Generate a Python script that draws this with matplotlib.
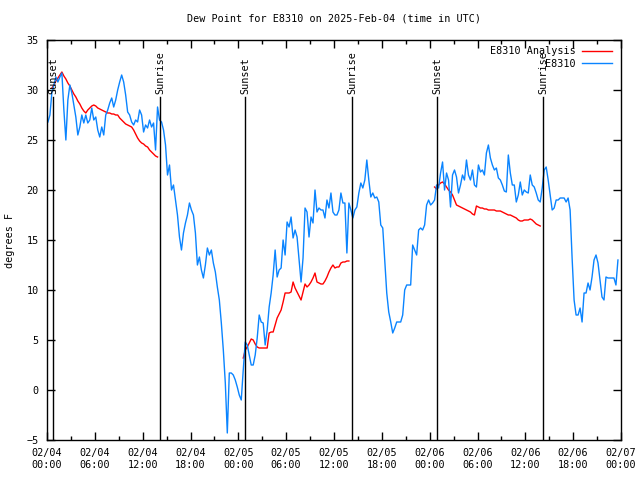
import numpy as np
import pandas as pd
import matplotlib
matplotlib.use("Agg")
import matplotlib.pyplot as plt
import matplotlib.dates as mdates

# station observations, every 15 minutes
obs_start = "2025-02-04 00:07"
obs_dewpt = [
    26.8, 27.5, 29.8, 30.5, 31.3, 30.8, 31.3, 31.7, 28.0, 25.0,
    29.0, 30.5, 29.7, 28.5, 27.3, 25.5, 26.3, 27.5, 26.7, 27.5,
    26.7, 27.0, 28.2, 27.0, 27.3, 26.0, 25.3, 26.3, 25.5, 27.5,
    28.0, 28.7, 29.2, 28.3, 29.0, 30.0, 30.8, 31.5, 30.8, 29.5,
    27.8, 27.5, 26.8, 26.5, 27.0, 26.8, 28.0, 27.5, 25.8, 26.5,
    26.2, 27.0, 26.3, 26.7, 24.0, 28.3, 27.0, 26.8, 26.0, 24.5,
    21.5, 22.5, 20.0, 20.5, 19.0, 17.5, 15.3, 14.0, 15.7, 16.7,
    17.5, 18.7, 18.0, 17.5, 15.7, 12.5, 13.3, 12.0, 11.2, 12.5,
    14.2, 13.5, 14.0, 12.7, 11.8, 10.3, 9.0, 6.7, 4.0, 0.7,
    -4.3, 1.7, 1.7, 1.5, 1.0, 0.3, -0.5, -1.0, 2.0, 4.8,
    4.5, 3.5, 2.5, 2.5, 3.5, 5.2, 7.5, 6.8, 6.7, 4.5,
    6.0, 8.3, 9.7, 11.5, 14.0, 11.3, 12.0, 12.2, 15.0, 13.5,
    16.8, 16.3, 17.3, 15.2, 16.0, 15.3, 13.0, 10.8, 13.2, 18.2,
    17.8, 15.3, 17.3, 16.7, 20.0, 17.8, 18.2, 18.0, 18.0, 17.2,
    19.0, 18.2, 19.7, 17.8, 17.5, 17.5, 18.0, 19.7, 18.7, 18.7,
    13.7, 18.7, 18.0, 17.2, 18.0, 18.3, 19.7, 20.7, 20.2, 21.0,
    23.0, 21.0, 19.3, 19.7, 19.2, 19.3, 18.8, 16.5, 16.2, 13.0,
    9.7, 7.8, 6.8, 5.7, 6.2, 6.8, 6.8, 6.8, 7.5, 10.0,
    10.5, 10.5, 10.5, 14.5, 14.0, 13.5, 16.0, 16.2, 16.0, 16.5,
    18.5, 19.0, 18.5, 18.7, 19.0, 20.5, 20.2, 21.7, 22.8, 20.0,
    21.7, 21.0, 18.3, 21.5, 22.0, 21.3, 19.7, 20.5, 21.5, 21.0,
    23.0, 21.5, 21.0, 22.0, 20.5, 20.3, 22.5, 21.8, 22.0, 21.5,
    23.7, 24.5, 23.2, 22.5, 22.0, 22.2, 21.2, 21.0, 20.5, 19.9,
    19.8, 23.5, 21.7, 20.5, 20.5, 18.8, 19.5, 20.8, 19.5, 20.0,
    19.8, 19.7, 21.5, 20.5, 20.3, 19.7, 19.0, 18.8, 20.2, 22.0,
    22.3, 21.0, 19.5, 18.0, 18.2, 19.0, 19.0, 19.2, 19.2, 19.2,
    18.8, 19.2, 18.0, 13.2, 9.0, 7.5, 7.5, 8.2, 6.8, 9.7,
    9.7, 10.7, 10.0, 11.3, 13.0, 13.5, 12.7, 11.0, 9.3, 9.0,
    11.3, 11.2, 11.2, 11.2, 11.2, 10.5, 13.0,
]

# analysis runs (one per night), every 15 minutes
ana_starts = ["2025-02-04 00:37", "2025-02-05 00:37", "2025-02-06 00:37"]
ana_night1 = [
    30.2, 30.5, 30.9, 31.2, 31.5, 31.8, 31.4, 31.1, 30.7, 30.4,
    30.0, 29.6, 29.3, 28.9, 28.6, 28.2, 27.9, 27.7, 28.0, 28.2,
    28.4, 28.5, 28.4, 28.2, 28.1, 28.0, 27.9, 27.8, 27.7, 27.7,
    27.6, 27.6, 27.5, 27.5, 27.2, 27.0, 26.8, 26.6, 26.5, 26.4,
    26.3, 26.0, 25.6, 25.2, 24.9, 24.7, 24.6, 24.4, 24.3, 24.0,
    23.8, 23.6, 23.4, 23.3,
]
ana_night2 = [
    3.2, 4.0, 4.3, 4.7, 5.1, 5.0, 4.6, 4.3, 4.2, 4.2,
    4.2, 4.2, 4.2, 5.7, 5.8, 5.8, 6.5, 7.2, 7.6, 8.0,
    8.8, 9.7, 9.7, 9.7, 9.8, 10.8, 10.2, 9.8, 9.4, 9.0,
    9.8, 10.6, 10.3, 10.5, 10.8, 11.2, 11.7, 10.8, 10.7, 10.6,
    10.6, 10.9, 11.3, 11.8, 12.2, 12.5, 12.2, 12.3, 12.3, 12.7,
    12.8, 12.8, 12.9, 12.9,
]
ana_night3 = [
    20.3, 20.1, 20.5, 20.7, 20.8, 20.6, 20.3, 20.0, 19.8, 19.5,
    19.0, 18.5, 18.4, 18.3, 18.2, 18.1, 18.0, 17.9, 17.8, 17.6,
    17.5, 18.4, 18.3, 18.2, 18.2, 18.1, 18.1, 18.0, 18.0, 18.0,
    18.0, 17.9, 17.9, 17.9, 17.8, 17.7, 17.6, 17.5, 17.5, 17.4,
    17.3, 17.2, 17.0, 16.9, 16.9, 17.0, 17.0, 17.0, 17.1, 17.0,
    16.8, 16.6, 16.5, 16.4,
]

sun_times = ["2025-02-04 00:45", "2025-02-04 14:10", "2025-02-05 00:50",
             "2025-02-05 14:15", "2025-02-06 00:55", "2025-02-06 14:13"]
sun_labels = ["Sunset", "Sunrise", "Sunset", "Sunrise", "Sunset", "Sunrise"]

BLUE = "#0a84ff"
RED = "#ff0000"
FONT = "DejaVu Sans Mono"
FS = 7.3

plt.rcParams["font.family"] = FONT
plt.rcParams["font.size"] = FS

fig = plt.figure(figsize=(6.4, 4.8), dpi=100)
ax = fig.add_axes([47 / 640, 40 / 480, 574 / 640, 400 / 480])

obs_t = pd.date_range(obs_start, periods=len(obs_dewpt), freq="15min")

# join the analysis nights into one series with gaps
ana_t, ana_v = [], []
for start, vals in zip(ana_starts, [ana_night1, ana_night2, ana_night3]):
    t = pd.date_range(start, periods=len(vals), freq="15min")
    ana_t.extend(t)
    ana_v.extend(vals)
    ana_t.append(t[-1] + pd.Timedelta(minutes=1))
    ana_v.append(np.nan)

ax.plot(ana_t, ana_v, color=RED, lw=1.0, label="E8310 Analysis")
ax.plot(obs_t, obs_dewpt, color=BLUE, lw=1.0, label="E8310")

for t, lab in zip(sun_times, sun_labels):
    tt = pd.Timestamp(t)
    ax.plot([tt, tt], [-5, 29.3], color="black", lw=1.0)
    ax.text(tt, 29.6, lab, rotation=90, ha="center", va="bottom", fontsize=FS)

ax.set_xlim(pd.Timestamp("2025-02-04 00:00"), pd.Timestamp("2025-02-07 00:00"))
ax.set_ylim(-5, 35)
ax.set_yticks(range(-5, 36, 5))
ax.xaxis.set_major_locator(mdates.HourLocator(byhour=range(0, 24, 6)))
ax.xaxis.set_minor_locator(mdates.HourLocator(byhour=range(0, 24, 3)))
ax.xaxis.set_major_formatter(mdates.DateFormatter("%m/%d\n%H:%M"))
ax.tick_params(which="both", direction="in", top=True, right=True,
               width=1.0, labelsize=FS, pad=6)
ax.tick_params(which="major", length=6)
ax.tick_params(which="minor", length=3)
for s in ax.spines.values():
    s.set_linewidth(1.0)

fig.text(10 / 640, 0.5, "degrees F", rotation=90, ha="center", va="center",
         fontsize=FS)
ax.set_title("Dew Point for E8310 on 2025-Feb-04 (time in UTC)",
             fontsize=FS, pad=13)

ax.legend(loc="upper right", bbox_to_anchor=(0.995, 1.0), frameon=False,
          markerfirst=False, handlelength=3.0, handletextpad=0.6,
          labelspacing=0.25, fontsize=FS, borderaxespad=0.2)

fig.savefig("out.png", dpi=100)
